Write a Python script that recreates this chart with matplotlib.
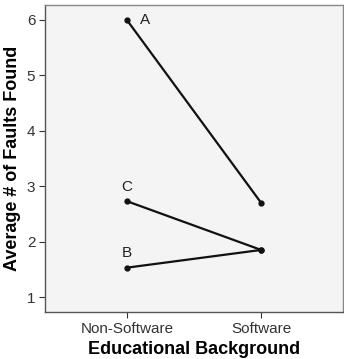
import matplotlib.pyplot as plt

plt.rcParams['font.family'] = ['Liberation Sans', 'DejaVu Sans']

# --- Data ---
groups = ['Non-Software', 'Software']
series_names = ['A', 'B', 'C']
series_a = [6.0, 2.70]
series_b = [1.53, 1.85]
series_c = [2.73, 1.85]
yticks = [1, 2, 3, 4, 5, 6]

fig = plt.figure(figsize=(3.44, 3.59), dpi=100)
ax = fig.add_axes([45 / 344, 1 - 312 / 359, 298 / 344, 307 / 359])
ax.set_facecolor('#f4f4f4')

x = list(range(len(groups)))
for vals in (series_a, series_b, series_c):
    ax.plot(x, vals, color='#111111', lw=1.6, marker='o', markersize=3.5)

ax.text(x[0] + 0.1, series_a[0], 'A', fontsize=11, color='#222222', va='center', ha='left')
ax.text(x[0], series_b[0] + 0.13, 'B', fontsize=11, color='#222222', va='bottom', ha='center')
ax.text(x[0], series_c[0] + 0.13, 'C', fontsize=11, color='#222222', va='bottom', ha='center')

ax.set_xlim(-0.61, 1.61)
ax.set_ylim(0.73, 6.27)
ax.set_xticks(x)
ax.set_xticklabels(groups)
ax.set_yticks(yticks)
ax.tick_params(labelsize=11, colors='#333333', length=4, width=0.8)
ax.tick_params(axis='y', pad=3)
for side in ax.spines.values():
    side.set_color('#888888')
    side.set_linewidth(1.0)
ax.spines['left'].set_color('#555555')
ax.spines['bottom'].set_color('#555555')

ax.set_xlabel('Educational Background', fontsize=13, fontweight='bold', labelpad=3)
ax.set_ylabel('Average # of Faults Found', fontsize=13, fontweight='bold', labelpad=4)

fig.savefig('out.png', dpi=100)
